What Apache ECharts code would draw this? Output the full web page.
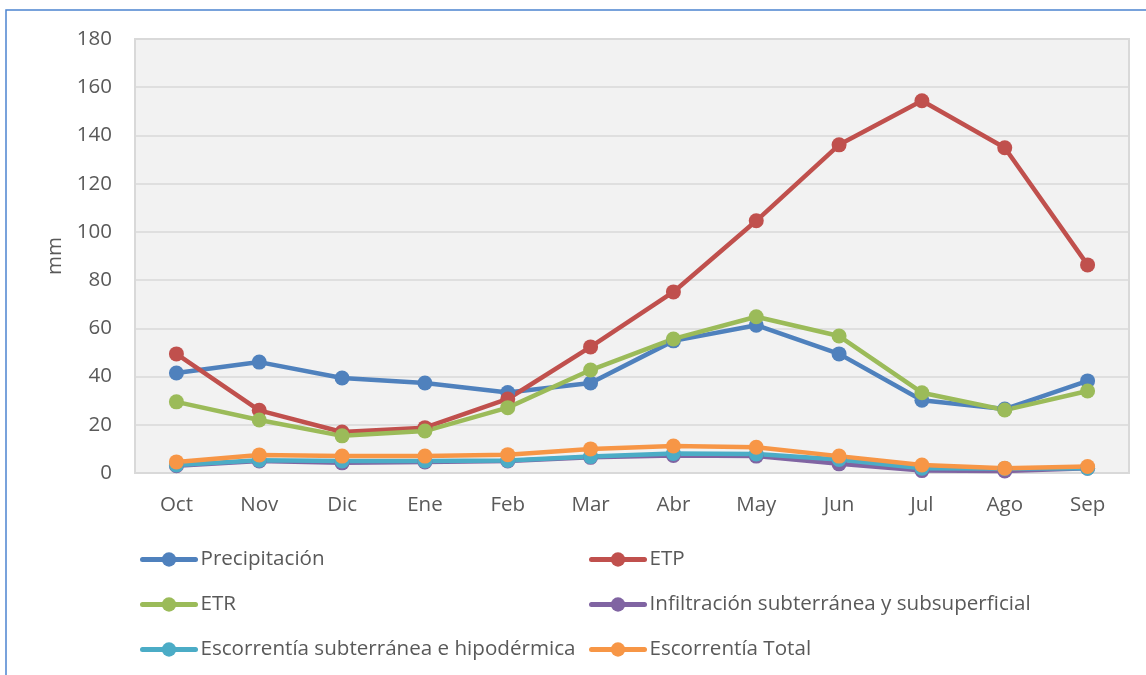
<!DOCTYPE html>
<html>
<head>
<meta charset="utf-8">
<script src="https://cdn.jsdelivr.net/npm/echarts@6/dist/echarts.min.js"></script>
<style>html,body{margin:0;padding:0;background:#fff;}#c{width:1146px;height:675px;}</style>
</head>
<body>
<div id="c"></div>
<script>
const months = ['Oct','Nov','Dic','Ene','Feb','Mar','Abr','May','Jun','Jul','Ago','Sep'];
const precipitacion = [41.5, 46, 39.4, 37.3, 33.4, 37.3, 54.8, 61.3, 49.4, 30.2, 26.5, 38.2];
const etp = [49.4, 26, 17, 18.8, 30.7, 52.3, 75.1, 104.6, 136.1, 154.4, 134.9, 86.3];
const etr = [29.5, 22, 15.4, 17.4, 27.1, 42.7, 55.6, 64.8, 56.8, 33.3, 26.1, 34];
const infiltracion = [3, 5, 4.2, 4.6, 5, 6.5, 7.3, 7, 3.8, 1, 0.8, 2];
const escorrentiaSub = [3.3, 5.3, 5, 5, 5.2, 6.8, 8.1, 7.9, 5.6, 2, 1.9, 2];
const escorrentiaTotal = [4.6, 7.5, 7, 7, 7.6, 10, 11.2, 10.7, 7, 3.3, 2, 2.7];
const yTicks = {min: 0, max: 180, interval: 20};

const names = ['Precipitación','ETP','ETR','Infiltración subterránea y subsuperficial','Escorrentía subterránea e hipodérmica','Escorrentía Total'];
const datas = [precipitacion, etp, etr, infiltracion, escorrentiaSub, escorrentiaTotal];
const colors = ['#4F81BD','#C0504D','#9BBB59','#8064A2','#4BACC6','#F79646'];
const FONT = '"Open Sans", sans-serif';

const legendPos = [[140, 549], [589, 549], [140, 594], [589, 594], [140, 639], [589, 639]];
const legends = names.map((n, i) => ({
  left: legendPos[i][0], top: legendPos[i][1], data: [n],
  itemWidth: 53, itemHeight: 18, padding: 0,
  textStyle: {fontFamily: FONT, fontSize: 20.6, color: '#595959'},
  lineStyle: {width: 5, cap: 'round'}
}));

const chart = echarts.init(document.getElementById('c'), null, {renderer: 'canvas'});
chart.setOption({
  animation: false,
  color: colors,
  graphic: [{
    type: 'rect', shape: {x: 6, y: 10, width: 1200, height: 700},
    style: {fill: 'none', stroke: '#4C84D0', lineWidth: 1.5}, silent: true
  }],
  grid: {left: 135, right: 17, top: 39, bottom: 202, show: true,
    backgroundColor: '#F2F2F2', borderColor: '#D9D9D9', borderWidth: 2},
  legend: legends,
  xAxis: {
    type: 'category', data: months, boundaryGap: true,
    axisLine: {show: true, lineStyle: {color: '#D9D9D9', width: 2}},
    axisTick: {show: false},
    axisLabel: {fontFamily: FONT, fontSize: 20.5, color: '#595959', margin: 22}
  },
  yAxis: {
    type: 'value', min: yTicks.min, max: yTicks.max, interval: yTicks.interval,
    name: 'mm', nameLocation: 'middle', nameGap: 67, nameRotate: 90,
    nameTextStyle: {fontFamily: FONT, fontSize: 20.5, color: '#595959'},
    axisLine: {show: false}, axisTick: {show: false},
    axisLabel: {fontFamily: FONT, fontSize: 20.5, color: '#595959', margin: 23},
    splitLine: {lineStyle: {color: '#D9D9D9', width: 1.5}}
  },
  series: names.map((n, i) => ({
    name: n, type: 'line', data: datas[i],
    symbol: 'circle', symbolSize: 15,
    lineStyle: {width: 4.5, color: colors[i], cap: 'round', join: 'round'},
    itemStyle: {color: colors[i]}
  }))
});
</script>
</body>
</html>
